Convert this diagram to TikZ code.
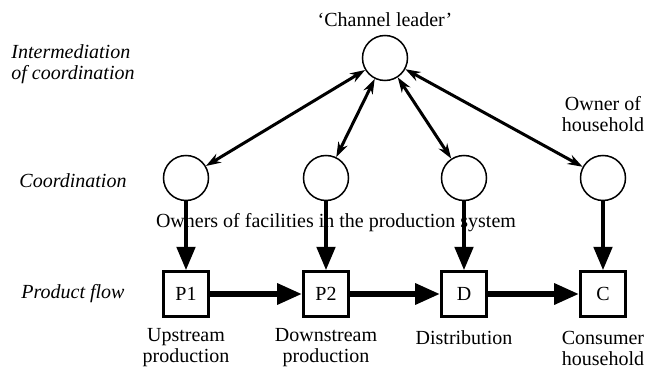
\documentclass[tikz,border=0pt]{standalone}
\usepackage{fontspec}
\setmainfont{Liberation Serif}
\usetikzlibrary{arrows.meta}
\begin{document}
\fontsize{12pt}{12.6pt}\selectfont
\begin{tikzpicture}[x=0.6pt,y=-0.6pt,
                    actor/.style = {circle,draw,line width=0.9pt,minimum size=27pt,inner sep=0pt},
                    stage/.style = {rectangle,draw,line width=1.6pt,minimum size=27pt,inner sep=0pt},
                    level/.style = {font=\itshape,align=left},
                    link/.style = {line width=1.8pt,{Stealth[length=9pt,width=6pt]}-{Stealth[length=9pt,width=6pt]}},
                    control/.style = {line width=2.4pt,-{Triangle[length=14pt,width=11pt]}},
                    flow/.style = {line width=3.6pt,-{Triangle[length=15pt,width=12pt]}}]
                    \useasboundingbox (0,0) rectangle (654,371);

                    \node [level] (lvlint) at (73,64) {Intermediation\\of coordination};
                    \node [level] (lvlcoord) at (73,181) {Coordination};
                    \node [level] (lvlflow) at (73,294) {Product flow};

                    \node (leadtxt) at (385,20) {`Channel leader'};
                    \node [actor] (lead) at (385,58) {};

                    \node [actor] (c1) at (186,178) {};
                    \node [actor] (c2) at (326,178) {};
                    \node [actor] (c3) at (464,178) {};
                    \node [actor] (c4) at (603,178) {};
                    \node [align=center] (owner) at (603,114) {Owner of\\household};
                    \node (owners) at (336,223) {Owners of facilities in the production system};

                    \node [stage] (p1) at (186,294) {P1};
                    \node [stage] (p2) at (326,294) {P2};
                    \node [stage] (d) at (464,294) {D};
                    \node [stage] (c) at (603,294) {C};

                    \node [align=center] (up) at (186,348) {Upstream\\production};
                    \node [align=center] (down) at (326,348) {Downstream\\production};
                    \node (dist) at (464,338) {Distribution};
                    \node [align=center] (cons) at (603,348) {Consumer\\household};

                    \draw[link] (lead) -- (c1);
                    \draw[link] (lead) -- (c2);
                    \draw[link] (lead) -- (c3);
                    \draw[link] (lead) -- (c4);

                    \draw[control] (c1) -- (p1);
                    \draw[control] (c2) -- (p2);
                    \draw[control] (c3) -- (d);
                    \draw[control] (c4) -- (c);

                    \draw[flow] (p1) -- (p2);
                    \draw[flow] (p2) -- (d);
                    \draw[flow] (d) -- (c);
\end{tikzpicture}
\end{document}
